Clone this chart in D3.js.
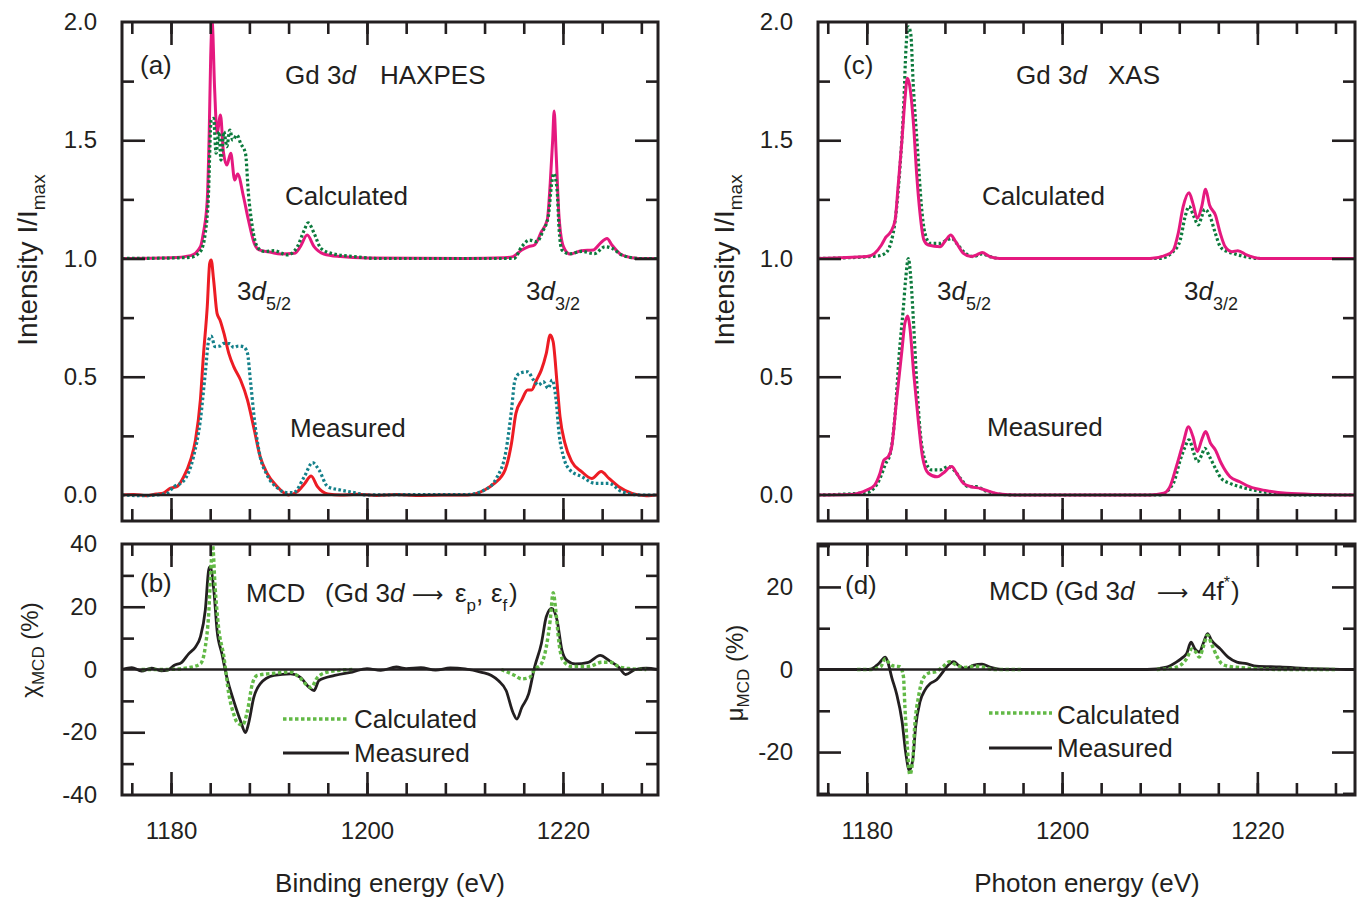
<!DOCTYPE html>
<html>
<head>
<meta charset="utf-8">
<script src="https://cdn.jsdelivr.net/npm/d3@7"></script>
<style>
  body { margin: 0; background: #fff; }
  svg text { font-family: "Liberation Sans", Arial, Helvetica, sans-serif; fill: #231f20; }
</style>
</head>
<body>
<svg id="fig" width="1360" height="902"></svg>
<script>

// ---- data (energy in eV, value) ----
// (a) HAXPES, calculated (normalised, drawn with +1 offset)
const haxCalcSolid = [[1175,0],[1180,0.003],[1182,0.012],[1183,0.05],[1183.3,0.107],[1183.7,0.247],[1183.9,0.53],[1184.05,0.85],[1184.2,1.0],[1184.45,0.72],[1184.7,0.53],[1185.05,0.607],[1185.35,0.45],[1185.7,0.395],[1186.1,0.445],[1186.5,0.332],[1186.8,0.357],[1187.4,0.261],[1187.9,0.163],[1188.5,0.064],[1189.0,0.036],[1190.2,0.026],[1191.2,0.019],[1192.6,0.022],[1193.2,0.05],[1193.9,0.099],[1194.6,0.05],[1195.6,0.019],[1197.3,0.008],[1200,0.002],[1210,0.0],[1214.0,0.003],[1214.9,0.008],[1215.8,0.036],[1216.5,0.05],[1217.1,0.057],[1217.8,0.113],[1218.4,0.163],[1218.7,0.318],[1218.95,0.5],[1219.1,0.624],[1219.3,0.45],[1219.6,0.177],[1220.05,0.05],[1220.7,0.019],[1221.9,0.033],[1223.1,0.036],[1223.8,0.064],[1224.5,0.085],[1225.0,0.057],[1226.0,0.015],[1227.7,0.0],[1229.7,0]];
const haxCalcDotted = [[1175,0],[1180,0.002],[1182,0.005],[1183,0.03],[1183.5,0.107],[1183.8,0.247],[1184.1,0.586],[1184.35,0.593],[1184.6,0.445],[1184.9,0.536],[1185.1,0.416],[1185.4,0.536],[1185.7,0.473],[1186.0,0.543],[1186.3,0.501],[1186.75,0.522],[1187.1,0.487],[1187.6,0.445],[1187.9,0.276],[1188.3,0.134],[1188.8,0.05],[1189.5,0.03],[1190.5,0.033],[1191.9,0.015],[1192.9,0.05],[1193.6,0.12],[1194.0,0.151],[1194.6,0.107],[1195.3,0.043],[1196.6,0.019],[1198.7,0.008],[1201,0.0],[1213,0],[1215.0,0.0],[1215.8,0.05],[1216.6,0.078],[1217.3,0.071],[1218.0,0.12],[1218.5,0.177],[1218.85,0.318],[1219.05,0.36],[1219.4,0.29],[1219.6,0.127],[1219.9,0.036],[1220.7,0.02],[1221.9,0.03],[1223.2,0.02],[1224.3,0.05],[1225.0,0.043],[1226,0.015],[1227.9,0],[1229.7,0]];
// (a) HAXPES, measured
const haxMeasSolid = [[1175,0],[1176.2,0.002],[1177.5,-0.003],[1178.5,0.004],[1179.2,0.007],[1179.9,0.028],[1180.6,0.035],[1181.3,0.077],[1182.0,0.148],[1182.5,0.233],[1183.0,0.402],[1183.3,0.585],[1183.7,0.796],[1183.95,0.98],[1184.1,0.994],[1184.35,0.909],[1184.7,0.768],[1185.0,0.74],[1185.4,0.684],[1185.9,0.599],[1186.4,0.543],[1187.1,0.486],[1187.8,0.402],[1188.5,0.275],[1189.1,0.162],[1189.8,0.092],[1190.85,0.035],[1191.5,0.01],[1192.0,0.0],[1192.9,0.014],[1193.65,0.049],[1194.3,0.08],[1194.95,0.035],[1196.0,0.004],[1197.3,0.0],[1199,0.003],[1201,-0.002],[1203,0.002],[1205,-0.002],[1207.6,0.0],[1210.3,0.0],[1212.0,0.021],[1213.0,0.049],[1214.1,0.106],[1214.75,0.219],[1215.2,0.345],[1215.8,0.402],[1216.4,0.444],[1216.8,0.444],[1217.3,0.486],[1217.8,0.529],[1218.3,0.599],[1218.7,0.677],[1219.0,0.648],[1219.4,0.472],[1219.7,0.331],[1220.2,0.219],[1220.9,0.141],[1221.9,0.099],[1222.95,0.07],[1223.9,0.099],[1224.7,0.07],[1225.7,0.035],[1227.05,0.007],[1228.5,-0.003],[1229.7,0.0]];
const haxMeasDotted = [[1175,0.0],[1177,-0.003],[1179.5,0.005],[1180.3,0.035],[1181.3,0.06],[1182.3,0.162],[1183.0,0.317],[1183.5,0.515],[1183.85,0.655],[1184.1,0.672],[1184.5,0.627],[1185.0,0.63],[1185.4,0.641],[1186.0,0.64],[1186.4,0.624],[1186.9,0.63],[1187.4,0.627],[1187.8,0.6],[1188.1,0.486],[1188.6,0.289],[1189.1,0.162],[1189.8,0.085],[1190.85,0.03],[1191.8,0.01],[1192.5,0.01],[1193.6,0.077],[1194.45,0.137],[1195.1,0.106],[1196.0,0.035],[1197.3,0.021],[1198.7,0.01],[1200,0.0],[1205,0.002],[1210.3,0.002],[1212.0,0.021],[1213.2,0.07],[1214.2,0.19],[1214.75,0.36],[1215.1,0.486],[1215.6,0.515],[1216.4,0.521],[1217.0,0.486],[1217.5,0.465],[1218.0,0.479],[1218.5,0.451],[1218.9,0.486],[1219.3,0.402],[1219.6,0.261],[1220.05,0.162],[1220.7,0.106],[1221.9,0.078],[1223.3,0.049],[1224.7,0.049],[1226.0,0.014],[1228,0],[1229.7,0]];

// (c) XAS, calculated (drawn with +1 offset)
const xasCalcSolid = [[1175,0],[1180.0,0.008],[1180.8,0.022],[1181.5,0.057],[1181.95,0.09],[1182.45,0.113],[1182.9,0.163],[1183.2,0.304],[1183.6,0.501],[1183.9,0.67],[1184.15,0.762],[1184.35,0.74],[1184.8,0.557],[1185.1,0.36],[1185.45,0.19],[1185.85,0.078],[1186.3,0.057],[1187.5,0.05],[1188.1,0.078],[1188.6,0.099],[1189.0,0.078],[1189.9,0.022],[1190.7,0.008],[1191.25,0.015],[1191.8,0.025],[1192.6,0.008],[1193.6,0.0],[1209.0,0.0],[1210.7,0.015],[1211.4,0.036],[1211.9,0.107],[1212.4,0.219],[1213.0,0.278],[1213.4,0.233],[1213.85,0.17],[1214.3,0.219],[1214.7,0.293],[1215.1,0.226],[1215.7,0.184],[1216.2,0.107],[1216.7,0.05],[1217.4,0.029],[1218.0,0.033],[1218.9,0.015],[1220.3,0.0],[1230,0]];
const xasCalcDotted = [[1175,0],[1181.0,0.01],[1181.9,0.022],[1182.7,0.107],[1183.4,0.388],[1183.8,0.67],[1184.0,0.88],[1184.25,0.98],[1184.5,0.95],[1184.75,0.74],[1185.2,0.459],[1185.6,0.219],[1185.95,0.107],[1186.5,0.064],[1187.5,0.064],[1188.2,0.078],[1188.7,0.085],[1189.2,0.064],[1190.1,0.022],[1190.9,0.008],[1191.8,0.019],[1192.6,0.008],[1193.6,0],[1210,0],[1211.4,0.03],[1212.1,0.078],[1212.6,0.177],[1213.0,0.22],[1213.5,0.177],[1213.95,0.142],[1214.3,0.177],[1214.6,0.208],[1215.1,0.184],[1215.7,0.106],[1216.2,0.05],[1216.9,0.029],[1217.5,0.022],[1218.5,0.01],[1220.3,0],[1230,0]];
// (c) XAS, measured
const xasMeasSolid = [[1175,0],[1178.3,0.002],[1180,0.021],[1180.8,0.042],[1181.35,0.092],[1181.75,0.148],[1182.2,0.162],[1182.55,0.204],[1183.05,0.402],[1183.6,0.613],[1183.9,0.726],[1184.2,0.757],[1184.4,0.712],[1184.8,0.515],[1185.3,0.303],[1185.7,0.162],[1186.3,0.092],[1187.2,0.077],[1187.8,0.092],[1188.7,0.12],[1189.2,0.092],[1189.9,0.049],[1190.7,0.035],[1191.6,0.028],[1192.2,0.02],[1193.6,0.004],[1195.3,0],[1209,0],[1210.4,0.007],[1211.05,0.035],[1211.7,0.12],[1212.4,0.219],[1212.95,0.289],[1213.4,0.247],[1213.85,0.184],[1214.3,0.233],[1214.7,0.268],[1215.2,0.219],[1215.7,0.19],[1216.3,0.134],[1217.2,0.077],[1218.2,0.056],[1219.2,0.035],[1220.95,0.018],[1223.0,0.007],[1226.1,0.002],[1230,0]];
const xasMeasDotted = [[1175,0],[1180,0.01],[1181.35,0.07],[1181.9,0.13],[1182.4,0.175],[1182.9,0.345],[1183.3,0.585],[1183.75,0.796],[1184.0,0.923],[1184.25,1.0],[1184.5,0.92],[1184.75,0.754],[1185.1,0.486],[1185.45,0.275],[1185.95,0.148],[1186.65,0.106],[1187.5,0.106],[1188.35,0.12],[1188.9,0.106],[1189.6,0.07],[1190.4,0.035],[1191.25,0.035],[1192.1,0.018],[1193.3,0.005],[1195,0],[1210,0],[1211.4,0.05],[1212.1,0.148],[1212.6,0.204],[1213.0,0.233],[1213.5,0.176],[1213.85,0.141],[1214.3,0.169],[1214.6,0.197],[1215.1,0.162],[1215.7,0.113],[1216.3,0.07],[1217.2,0.049],[1218.2,0.035],[1219.6,0.021],[1221.6,0.007],[1224.3,0],[1230,0]];

// (b) HAXPES MCD (%), null = gap in the dotted curve
const chiMeasured = [[1175,0],[1176,0.6],[1177,-0.5],[1178,0.4],[1179,-0.4],[1179.6,-0.3],[1180.3,1.3],[1181.1,2.3],[1181.8,5],[1182.5,7.2],[1183.0,10.4],[1183.5,18.9],[1183.85,31.8],[1184.0,32.8],[1184.4,24.3],[1184.7,12.5],[1185.2,5],[1185.7,-2.5],[1186.4,-10],[1187.1,-16.4],[1187.6,-20.1],[1187.9,-17.4],[1188.45,-8.9],[1189.1,-4.6],[1190.5,-1.9],[1192.2,-1.4],[1193.2,-2.5],[1194.1,-5.7],[1194.6,-6.7],[1195.1,-3.5],[1196.7,-1.9],[1198.5,-0.8],[1200,0.3],[1201.4,-0.3],[1203,0.8],[1204,0.3],[1205.5,0.6],[1207,-0.2],[1208.5,0.5],[1210,0.2],[1211.7,-0.9],[1212.7,-1.9],[1213.4,-3.5],[1214.2,-6.7],[1214.9,-13.7],[1215.3,-15.8],[1215.8,-12.1],[1216.5,-7.8],[1217.1,0.7],[1217.8,8.3],[1218.3,16.8],[1218.85,19.5],[1219.4,15.7],[1219.9,6.1],[1220.4,2.9],[1221.25,1.8],[1222.6,2.3],[1223.8,4.5],[1224.7,2.9],[1225.7,0.7],[1226.4,-1.6],[1227.4,0],[1228.5,0.4],[1229.7,0]];
const chiCalculated = [[1177,0],[1179.6,0],[1181.8,0.6],[1183,1.8],[1183.5,7.2],[1183.85,17.9],[1184.1,33.9],[1184.25,39.5],[1184.5,26.4],[1184.85,13.6],[1185.4,4],[1185.9,-7.8],[1186.4,-14.2],[1186.75,-16.9],[1187.3,-17.7],[1187.8,-13.2],[1188.3,-4.6],[1188.8,-1.9],[1190.5,-1.2],[1192.2,-0.8],[1193.1,-2.5],[1193.9,-5.1],[1194.3,-5.7],[1194.95,-2.5],[1196.0,-0.8],[1198.5,0],[1205,null],[1213.7,0],[1215.1,-1.9],[1215.8,-3],[1216.6,-2.5],[1217.1,0],[1217.8,1.8],[1218.3,7.2],[1218.7,15.7],[1219.0,24.5],[1219.3,17.9],[1219.6,8.3],[1220.0,2.9],[1220.9,1],[1222.6,1],[1224.0,2.3],[1224.85,2.3],[1225.7,0.9],[1226.7,0.3],[1228.5,0]];

// (d) XAS MCD (%)
const muMeasured = [[1175,0],[1180.3,0],[1181.2,1.4],[1181.9,3.0],[1182.2,1.4],[1182.55,-1.9],[1183.05,-5.9],[1183.6,-12.4],[1184.0,-20.4],[1184.35,-24.4],[1184.7,-22],[1185.0,-13.9],[1185.45,-7.8],[1185.95,-5],[1186.5,-3.4],[1187.15,-2.5],[1187.7,-0.9],[1188.2,0.7],[1188.9,1.9],[1189.4,1.0],[1190.1,0.2],[1190.9,1.0],[1191.8,1.3],[1192.6,0.6],[1194,0],[1208.7,0],[1210.7,0.6],[1211.7,1.8],[1212.4,3.0],[1212.75,3.8],[1213.2,6.6],[1213.6,5.0],[1214.05,4.2],[1214.5,6.6],[1214.9,8.7],[1215.3,7.1],[1216.2,5.0],[1217.0,3.0],[1217.9,1.8],[1218.9,1.4],[1219.9,0.8],[1222.3,0.6],[1225.7,0.2],[1229.1,0],[1230,0]];
const muCalculated = [[1179,0],[1180.3,0],[1181.4,0.6],[1181.9,2.6],[1182.2,1.8],[1182.55,1.0],[1182.9,0.8],[1183.4,0.7],[1183.75,-1.7],[1183.9,-9],[1184.15,-18.7],[1184.4,-25.5],[1184.7,-22],[1184.9,-13.9],[1185.3,-6.5],[1185.7,-2.5],[1186.3,-0.9],[1187.1,-0.5],[1187.8,0.7],[1188.5,1.9],[1189.2,1.0],[1190.1,0.5],[1191.1,0.8],[1191.9,0.6],[1192.9,0],[1196,0],[1203,null],[1209.7,0],[1211.4,0.4],[1212.1,1.0],[1212.75,2.6],[1213.3,5.0],[1213.7,4.2],[1214.05,3.0],[1214.5,5.8],[1214.9,8.3],[1215.3,6.2],[1215.9,3.0],[1216.35,1.4],[1217.0,0.8],[1218.2,0.5],[1219.9,0.2],[1222.3,0],[1228,0]];

// ---- ticks ----
const energyMinor = d3.range(1176, 1230, 4);
const energyMajor = [1180, 1200, 1220];
const intensityMinor = [0.25, 0.75, 1.25, 1.75];
const intensityMajor = [0.5, 1.0, 1.5];
const intensityLabels = [0.0, 0.5, 1.0, 1.5, 2.0];
const chiMinor = [-30, -10, 10, 30], chiMajor = [-20, 20], chiLabels = [-40, -20, 0, 20, 40];
const muMinor = [-30, -10, 10, 30], muMajor = [-20, 20], muLabels = [-20, 0, 20];

// ---- style ----
const ink = '#231f20';
const pink = '#e5197f', red = '#ed1c24', dkGreen = '#0c7a3c', teal = '#14808a', ltGreen = '#62b946';

const svg = d3.select('#fig');

let clipN = 0;
function makePanel(x0, x1, y0, y1, xDom, yDom) {
    let x = d3.scaleLinear().domain(xDom).range([x0, x1]);
    let y = d3.scaleLinear().domain(yDom).range([y1, y0]);
    let id = 'clip' + (clipN++);
    svg.append('clipPath').attr('id', id)
        .append('rect').attr('x', x0).attr('y', y0).attr('width', x1 - x0).attr('height', y1 - y0);
    let g = svg.append('g');
    let plot = g.append('g').attr('clip-path', 'url(#' + id + ')');
    return {x: x, y: y, g: g, plot: plot, x0: x0, x1: x1, y0: y0, y1: y1};
}

function tickSet(p, values, len, vertical) {
    let sides = vertical
        ? [[d3.axisLeft(p.y), 'translate(' + p.x0 + ',0)'], [d3.axisRight(p.y), 'translate(' + p.x1 + ',0)']]
        : [[d3.axisTop(p.x), 'translate(0,' + p.y0 + ')'], [d3.axisBottom(p.x), 'translate(0,' + p.y1 + ')']];
    sides.forEach(function (s) {
        p.g.append('g')
            .attr('transform', s[1])
            .call(s[0].tickValues(values).tickSize(-len).tickFormat(''))
            .call(a => a.select('.domain').remove())
            .selectAll('line').attr('stroke', ink).attr('stroke-width', 2.6);
    });
}

function frame(p, xMinor, xMajor, yMinor, yMajor) {
    tickSet(p, xMinor, 12, false);
    tickSet(p, xMajor, 23, false);
    tickSet(p, yMinor, 12, true);
    tickSet(p, yMajor, 23, true);
    // zero line
    p.g.append('line')
        .attr('x1', p.x0).attr('x2', p.x1)
        .attr('y1', p.y(0)).attr('y2', p.y(0))
        .attr('stroke', ink).attr('stroke-width', 2.6);
    p.g.append('rect')
        .attr('x', p.x0).attr('y', p.y0)
        .attr('width', p.x1 - p.x0).attr('height', p.y1 - p.y0)
        .attr('fill', 'none').attr('stroke', ink).attr('stroke-width', 3);
}

function yLabels(p, values, fmt) {
    p.g.append('g')
        .attr('transform', 'translate(' + p.x0 + ',0)')
        .call(d3.axisLeft(p.y).tickValues(values).tickSize(0).tickPadding(25).tickFormat(fmt))
        .call(a => a.select('.domain').remove())
        .attr('font-size', 24).attr('font-family', null)
        .selectAll('text').attr('fill', ink);
}

function xLabels(p) {
    p.g.append('g')
        .attr('transform', 'translate(0,' + p.y1 + ')')
        .call(d3.axisBottom(p.x).tickValues(energyMajor).tickSize(0).tickPadding(27).tickFormat(d3.format('d')))
        .call(a => a.select('.domain').remove())
        .attr('font-size', 24).attr('font-family', null)
        .selectAll('text').attr('fill', ink);
}

function curve(p, data, offset, color, width, dash) {
    let line = d3.line()
        .defined(d => d[1] !== null)
        .x(d => p.x(d[0]))
        .y(d => p.y(d[1] + offset))
        .curve(d3.curveMonotoneX);
    let path = p.plot.append('path')
        .datum(data)
        .attr('d', line)
        .attr('fill', 'none')
        .attr('stroke', color)
        .attr('stroke-width', width)
        .attr('stroke-linejoin', 'round');
    if (dash) path.attr('stroke-dasharray', dash);
}

function rich(g, x, y, size, parts, rotate) {
    let t = g.append('text').attr('x', x).attr('y', y).attr('font-size', size);
    if (rotate) t.attr('transform', 'rotate(-90,' + x + ',' + y + ')').attr('text-anchor', 'middle');
    parts.forEach(function (p) {
        if (typeof p === 'string') p = {t: p};
        let s = t.append('tspan').text(p.t);
        if (p.it) s.attr('font-style', 'italic');
        if (p.fs) s.attr('font-size', p.fs);
        if (p.ff) s.attr('font-family', p.ff);
        if (p.dy) s.attr('dy', p.dy);
        if (p.x != null) s.attr('x', p.x);
    });
    return t;
}

function legend(g, x1, x2, y, color, dash, width, label, ty) {
    let l = g.append('line').attr('x1', x1).attr('x2', x2).attr('y1', y).attr('y2', y)
        .attr('stroke', color).attr('stroke-width', width);
    if (dash) l.attr('stroke-dasharray', dash);
    g.append('text').attr('x', x2 + 5).attr('y', ty).attr('font-size', 26).text(label);
}

const DOT = '2.6,2.4';
const LTDOT = '3.5,2.5';
const ARROW = {t: '\u27f6', ff: 'DejaVu Sans', fs: 22};

// ---------------- (a) ----------------
let pa = makePanel(122, 658, 22, 521, [1175, 1229.7], [-0.11, 2.0]);
frame(pa, energyMinor, energyMajor, intensityMinor, intensityMajor);
yLabels(pa, intensityLabels, d3.format('.1f'));
curve(pa, haxCalcSolid, 1, pink, 3);
curve(pa, haxCalcDotted, 1, dkGreen, 3.2, DOT);
curve(pa, haxMeasSolid, 0, red, 3);
curve(pa, haxMeasDotted, 0, teal, 3.2, DOT);
rich(pa.g, 140, 74, 26, ['(a)']);
rich(pa.g, 285, 84, 26, ['Gd 3', {t: 'd', it: 1}, {t: 'HAXPES', x: 380}]);
rich(pa.g, 285, 205, 26, ['Calculated']);
rich(pa.g, 237, 300, 26, ['3', {t: 'd', it: 1}, {t: '5/2', fs: 18, dy: 10}]);
rich(pa.g, 526, 300, 26, ['3', {t: 'd', it: 1}, {t: '3/2', fs: 18, dy: 10}]);
rich(pa.g, 290, 437, 26, ['Measured']);
rich(pa.g, 37, 260, 28, ['Intensity I/I', {t: 'max', fs: 19, dy: 8}], true);

// ---------------- (b) ----------------
let pb = makePanel(122, 658, 544, 795, [1175, 1229.7], [-40, 40]);
frame(pb, energyMinor, energyMajor, chiMinor, chiMajor);
yLabels(pb, chiLabels, d => String(d));
xLabels(pb);
curve(pb, chiMeasured, 0, ink, 2.8);
curve(pb, chiCalculated, 0, ltGreen, 3.4, LTDOT);
rich(pb.g, 140, 592, 26, ['(b)']);
rich(pb.g, 246, 602, 26, ['MCD', {t: '(Gd 3', x: 325}, {t: 'd', it: 1}, Object.assign({x: 412}, ARROW),
    {t: '\u03b5', x: 455}, {t: 'p', fs: 17, dy: 9}, {t: ',', dy: -9},
    {t: '\u03b5', x: 491}, {t: 'f', fs: 17, dy: 9}, {t: ')', dy: -9, x: 509}]);
legend(pb.g, 283, 349, 719, ltGreen, LTDOT, 3.4, 'Calculated', 728);
legend(pb.g, 283, 349, 753, ink, null, 2.8, 'Measured', 762);
rich(pb.g, 38, 650, 24, ['\u03c7', {t: 'MCD', fs: 17, dy: 6}, {t: ' (%)', dy: -6}], true);
svg.append('text').attr('x', 390).attr('y', 892).attr('font-size', 26)
    .attr('text-anchor', 'middle').text('Binding energy (eV)');

// ---------------- (c) ----------------
let pc = makePanel(818, 1355, 22, 521, [1175, 1230], [-0.11, 2.0]);
frame(pc, energyMinor, energyMajor, intensityMinor, intensityMajor);
yLabels(pc, intensityLabels, d3.format('.1f'));
curve(pc, xasCalcDotted, 1, dkGreen, 3.2, DOT);
curve(pc, xasCalcSolid, 1, pink, 3);
curve(pc, xasMeasDotted, 0, dkGreen, 3.2, DOT);
curve(pc, xasMeasSolid, 0, pink, 3);
rich(pc.g, 843, 74, 26, ['(c)']);
rich(pc.g, 1016, 84, 26, ['Gd 3', {t: 'd', it: 1}, {t: 'XAS', x: 1108}]);
rich(pc.g, 982, 205, 26, ['Calculated']);
rich(pc.g, 937, 300, 26, ['3', {t: 'd', it: 1}, {t: '5/2', fs: 18, dy: 10}]);
rich(pc.g, 1184, 300, 26, ['3', {t: 'd', it: 1}, {t: '3/2', fs: 18, dy: 10}]);
rich(pc.g, 987, 436, 26, ['Measured']);
rich(pc.g, 734, 260, 28, ['Intensity I/I', {t: 'max', fs: 19, dy: 8}], true);

// ---------------- (d) ----------------
let pd = makePanel(818, 1355, 544, 795, [1175, 1230], [-30.4, 30.4]);
frame(pd, energyMinor, energyMajor, muMinor, muMajor);
yLabels(pd, muLabels, d => String(d));
xLabels(pd);
curve(pd, muMeasured, 0, ink, 2.8);
curve(pd, muCalculated, 0, ltGreen, 3.4, LTDOT);
rich(pd.g, 845, 594, 26, ['(d)']);
rich(pd.g, 989, 600, 26, ['MCD', {t: '(Gd 3', x: 1055}, {t: 'd', it: 1}, Object.assign({x: 1157}, ARROW),
    {t: '4f', x: 1202}, {t: '*', fs: 16, dy: -12}, {t: ')', dy: 12, x: 1231}]);
legend(pd.g, 989, 1052, 713, ltGreen, LTDOT, 3.4, 'Calculated', 724);
legend(pd.g, 989, 1052, 748, ink, null, 2.8, 'Measured', 757);
rich(pd.g, 743, 673, 24, ['\u03bc', {t: 'MCD', fs: 17, dy: 6}, {t: ' (%)', dy: -6}], true);
svg.append('text').attr('x', 1087).attr('y', 892).attr('font-size', 26)
    .attr('text-anchor', 'middle').text('Photon energy (eV)');

</script>
</body>
</html>
